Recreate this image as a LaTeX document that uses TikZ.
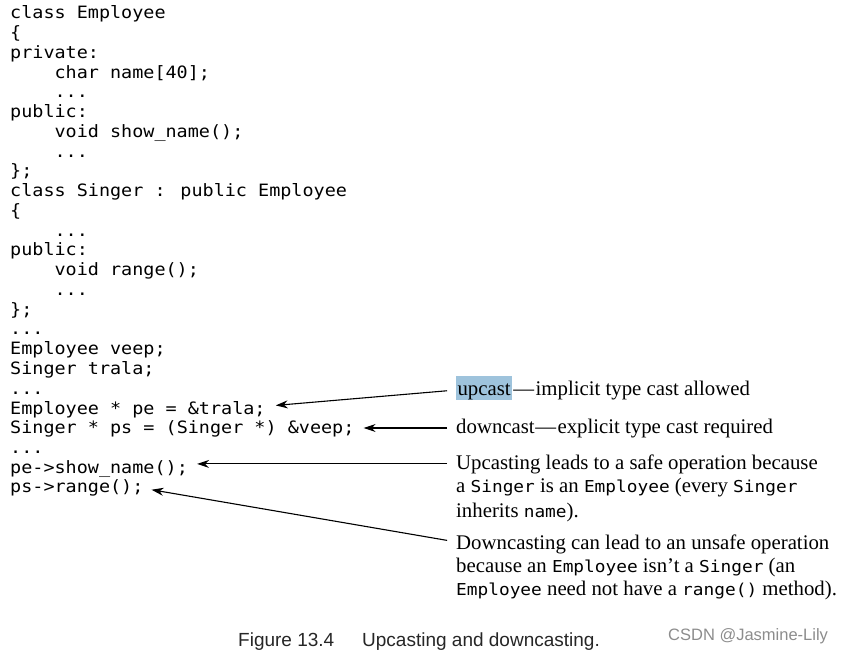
\documentclass[tikz,border=0pt]{standalone}
\usepackage{fontspec}
\usetikzlibrary{arrows.meta}
\setmainfont{Liberation Serif}
\newfontfamily\codefont[FakeStretch=1.085]{DejaVu Sans Mono}
\newfontfamily\capfont{Liberation Sans}
\definecolor{hl}{HTML}{9EC3DC}
\definecolor{wm}{HTML}{8C8C8C}
\newcommand{\ic}[1]{{\codefont\fontsize{16.4}{18}\selectfont #1}}
\tikzset{
  code/.style={font=\codefont\fontsize{17}{19}\selectfont, inner sep=0pt, anchor=base west},
  note/.style={font=\fontsize{20.8}{23}\selectfont, inner sep=0pt, anchor=base west},
  arr/.style={line width=1.1pt, -{Stealth[length=12pt,width=8pt]}},
}
\begin{document}
\begin{tikzpicture}[x=1pt,y=1pt]
\path[use as bounding box] (0,0) rectangle (844,-652);
% code
\node[code] (l0) at (10,-19) {class Employee};
\node[code] (l1) at (10,-38.75) {\{};
\node[code] (l2) at (10,-58.5) {private:};
\node[code] (l3) at (54.4,-78.25) {char name[40];};
\node[code] (l4) at (54.4,-98) {...};
\node[code] (l5) at (10,-117.75) {public:};
\node[code] (l6) at (54.4,-137.5) {void show\_name();};
\node[code] (l7) at (54.4,-157.25) {...};
\node[code] (l8) at (10,-177) {\};};
\node[code] (l9) at (10,-196.75) {class Singer : public Employee};
\node[code] (l10) at (10,-216.5) {\{};
\node[code] (l11) at (54.4,-236.25) {...};
\node[code] (l12) at (10,-256) {public:};
\node[code] (l13) at (54.4,-275.75) {void range();};
\node[code] (l14) at (54.4,-295.5) {...};
\node[code] (l15) at (10,-315.25) {\};};
\node[code] (l16) at (10,-335) {...};
\node[code] (l17) at (10,-354.75) {Employee veep;};
\node[code] (l18) at (10,-374.5) {Singer trala;};
\node[code] (l19) at (10,-394.25) {...};
\node[code] (l20) at (10,-414) {Employee * pe = \&trala;};
\node[code] (l21) at (10,-433.75) {Singer * ps = (Singer *) \&veep;};
\node[code] (l22) at (10,-453.5) {...};
\node[code] (l23) at (10,-473.25) {pe->show\_name();};
\node[code] (l24) at (10,-493) {ps->range();};
% notes
\node[note, fill=hl, inner xsep=1.3pt, text height=20pt, text depth=4pt] (upw) at (456,-396) {upcast};
\node[note] (upr) at ([xshift=1pt]upw.base east) {---\kern1.5pt implicit type cast allowed};
\node[note] (dn) at (456,-433) {downcast\kern0.5pt---\kern1.5pt explicit type cast required};
\node[note] (p3a) at (456,-469) {Upcasting leads to a safe operation because};
\node[note] (p3b) at (456,-493) {a \ic{Singer} is an \ic{Employee} (every \ic{Singer}};
\node[note] (p3c) at (456,-517) {inherits \ic{name}).};
\node[note] (p4a) at (456,-549) {Downcasting can lead to an unsafe operation};
\node[note] (p4b) at (456,-572) {because an \ic{Employee} isn't a \ic{Singer} (an};
\node[note] (p4c) at (456,-595) {\ic{Employee} need not have a \ic{range()} method).};
% arrows
\draw[arr, shorten <=9pt, shorten >=10pt] ([yshift=-2pt]upw.west) -- ([yshift=3pt]l20.east);
\draw[arr, shorten <=9pt, shorten >=9pt] (dn.west) -- (l21.east |- dn.west);
\draw[arr, shorten <=9pt, shorten >=9pt] (p3a.west) -- (l23.east |- p3a.west);
\draw[arr, shorten <=9pt, shorten >=8pt] ([yshift=2pt]p4a.west) -- (l24.east);
% caption
\node[font=\capfont\fontsize{19}{22}\selectfont, text=black!85, inner sep=0pt, anchor=base west] (figno) at (238,-646.5) {Figure 13.4};
\node[font=\capfont\fontsize{19}{22}\selectfont, text=black!85, inner sep=0pt, anchor=base west] (cap) at (362,-646.5) {Upcasting and downcasting.};
\node[font=\capfont\fontsize{16.5}{19}\selectfont, text=wm, inner sep=0pt, anchor=base west] (wmk) at (668,-640) {CSDN @Jasmine-Lily};
\end{tikzpicture}
\end{document}
